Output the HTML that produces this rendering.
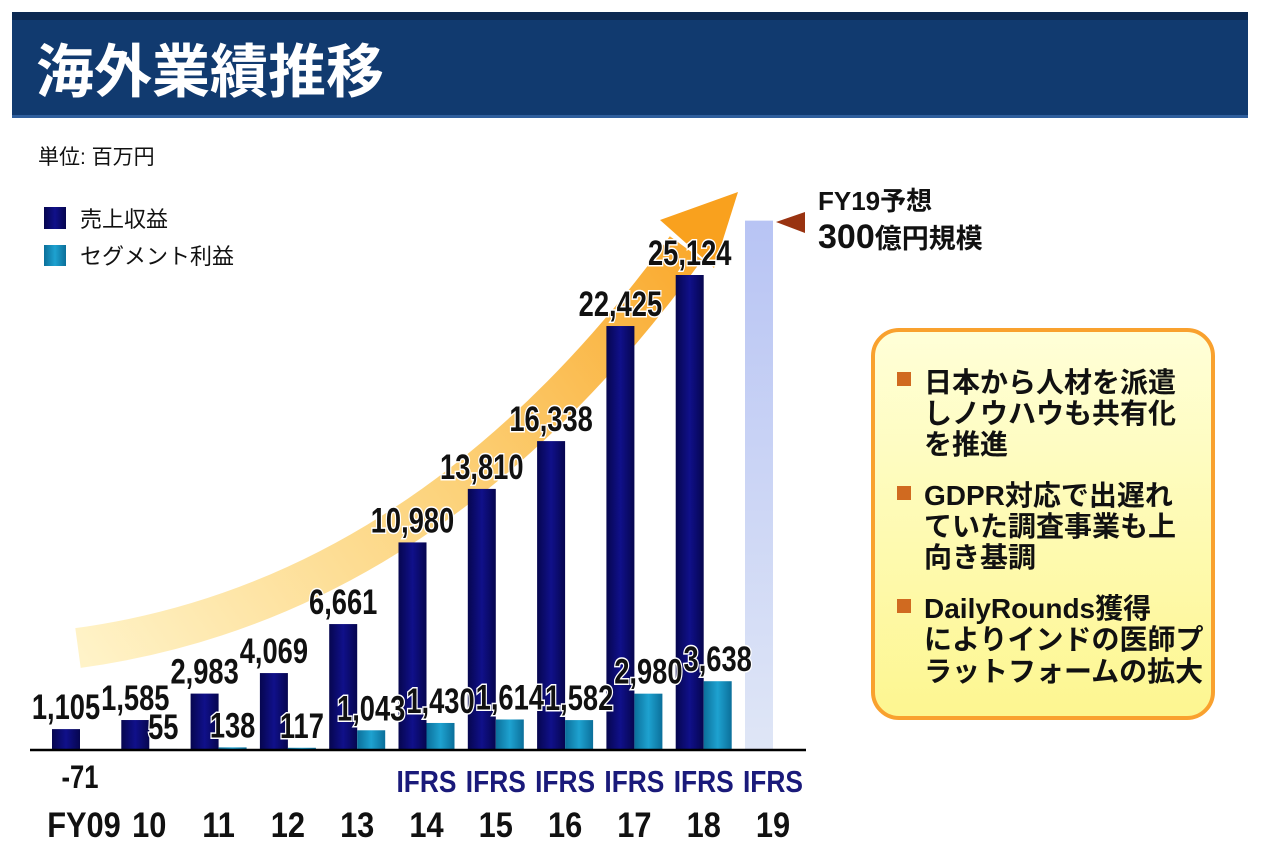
<!DOCTYPE html>
<html><head><meta charset="utf-8"><style>
body{margin:0;width:1280px;height:859px;background:#fff;overflow:hidden;font-family:"Liberation Sans","Noto Sans CJK JP",sans-serif}
svg{display:block}
</style></head><body>
<svg width="1280" height="859">
<defs>
<linearGradient id="rev" x1="0" x2="1"><stop offset="0" stop-color="#06064f"/><stop offset="0.5" stop-color="#10108a"/><stop offset="1" stop-color="#06064f"/></linearGradient>
<linearGradient id="seg" x1="0" x2="1"><stop offset="0" stop-color="#0b6f9a"/><stop offset="0.5" stop-color="#1ea2d0"/><stop offset="1" stop-color="#0b6f9a"/></linearGradient>
<linearGradient id="fc" x1="0" y1="0" x2="0" y2="1"><stop offset="0" stop-color="#b8c4f4"/><stop offset="1" stop-color="#dfe6f6"/></linearGradient>
<linearGradient id="arr" x1="78" y1="650" x2="738" y2="195" gradientUnits="userSpaceOnUse"><stop offset="0" stop-color="#fff3c8"/><stop offset="0.5" stop-color="#fcd27a"/><stop offset="1" stop-color="#f9a11e"/></linearGradient>
<linearGradient id="box" x1="0" y1="0" x2="0" y2="1"><stop offset="0" stop-color="#ffffd8"/><stop offset="1" stop-color="#fdf690"/></linearGradient>
</defs>
<g>
<rect x="12" y="12" width="1236" height="106" fill="#113a6f"/>
<rect x="12" y="12" width="1236" height="8" fill="#0c2952"/>
<rect x="12" y="115" width="1236" height="3" fill="#2f5e9c"/>
<text x="36" y="92" font-size="58" font-weight="bold" fill="#fff">海外業績推移</text>
</g>
<text x="38" y="164" font-size="21" fill="#111">単位: 百万円</text>
<g>
<rect x="44" y="207" width="22" height="22" fill="url(#rev)"/>
<text x="80" y="227" font-size="22" fill="#111">売上収益</text>
<rect x="44" y="245" width="22" height="21" fill="url(#seg)"/>
<text x="80" y="264" font-size="22" fill="#111">セグメント利益</text>
</g>
<g>
<path d="M78,648 Q430,600 686,248" fill="none" stroke="url(#arr)" stroke-width="40"/>
<polygon points="738,192 660,220 714,268" fill="#f9a11e"/>
</g>
<g id="bars"></g>
<line x1="30" y1="750" x2="806" y2="750" stroke="#000" stroke-width="2.5"/>
<g>
<polygon points="776,222 805,212 805,233" fill="#993311"/>
<text x="818" y="210" font-size="26" font-weight="bold" fill="#111">FY19予想</text>
<text x="818" y="248" font-weight="bold" fill="#111"><tspan font-size="34">300</tspan><tspan font-size="27">億円規模</tspan></text>
</g>
<g>
<rect x="873" y="330" width="340" height="388" rx="26" fill="url(#box)" stroke="#f9a12e" stroke-width="4"/>
<g font-size="28" fill="#111" font-weight="bold">
<rect x="897" y="372" width="14" height="14" fill="#d06a20"/>
<text x="924" y="392">日本から人材を派遣</text><text x="924" y="423">しノウハウも共有化</text><text x="924" y="454">を推進</text>
<rect x="897" y="486" width="14" height="14" fill="#d06a20"/>
<text x="924" y="505">GDPR対応で出遅れ</text><text x="924" y="536">ていた調査事業も上</text><text x="924" y="567">向き基調</text>
<rect x="897" y="599" width="14" height="14" fill="#d06a20"/>
<text x="924" y="618">DailyRounds獲得</text><text x="924" y="649">によりインドの医師プ</text><text x="924" y="681">ラットフォームの拡大</text>
</g>
</g>
</svg>
<script>
const categories=["FY09","10","11","12","13","14","15","16","17","18","19"];
const revenue=[1105,1585,2983,4069,6661,10980,13810,16338,22425,25124,null];
const segment=[-71,55,138,117,1043,1430,1614,1582,2980,3638,null];
const forecastRevenue=[null,null,null,null,null,null,null,null,null,null,28000];
const ifrs=[false,false,false,false,false,true,true,true,true,true,true];
const revLabels=["1,105","1,585","2,983","4,069","6,661","10,980","13,810","16,338","22,425","25,124",""];
const segLabels=["-71","55","138","117","1,043","1,430","1,614","1,582","2,980","3,638",""];
const NS="http://www.w3.org/2000/svg";
const g=document.getElementById('bars');
const base=750, k=475/25124;
function y(v){return base-v*k;}
function xr(i){return 52+i*69.3;}
function mk(t,a){const e=document.createElementNS(NS,t);for(const n in a)e.setAttribute(n,a[n]);g.appendChild(e);return e;}
function lab(x,yy,s,fill,size,sx,name,halo){const t=mk('text',{x:x,y:yy,'text-anchor':'middle','font-size':size,'font-weight':'bold',fill:fill,transform:`translate(${x},0) scale(${sx},1) translate(${-x},0)`});
if(halo){t.setAttribute('stroke','#fff');t.setAttribute('stroke-width','3');t.setAttribute('paint-order','stroke');}
t.textContent=s;


return t;}
categories.forEach((c,i)=>{
 const x=xr(i);
 if(revenue[i]!=null){
  const r=mk('rect',{x:x,y:y(revenue[i]),width:28,height:revenue[i]*k,fill:'url(#rev)'});
  
  
 }
 if(forecastRevenue[i]!=null){
  const r=mk('rect',{x:x,y:y(forecastRevenue[i]),width:28,height:forecastRevenue[i]*k,fill:'url(#fc)'});
  
  
 }
 if(segment[i]!=null && segment[i]>0){
   const s=mk('rect',{x:x+28,y:y(segment[i]),width:28,height:Math.max(segment[i]*k,1.5),fill:'url(#seg)'});
   
   
 }
});
categories.forEach((c,i)=>{
 const x=xr(i);
 if(revenue[i]!=null) lab(x+14,Math.min(y(revenue[i])-10,742),revLabels[i],'#111',35,0.78,'revenue-label-'+c,true);
 if(segment[i]!=null){
  if(segment[i]>0) lab(x+42,Math.min(y(segment[i])-10,742),segLabels[i],'#111',35,0.78,'segment-label-'+c,true);
  else lab(x+28,788,segLabels[i],'#111',32,0.8,'segment-label-'+c,false);
 }
 if(ifrs[i]) lab(x+28,792,'IFRS','#1a1a7a',31,0.85,'ifrs-label-'+c,false);
 lab(i==0?x+32:x+28,837,c,'#111',35,0.88,'x-tick-'+c,false);
});
</script>
</body></html>
